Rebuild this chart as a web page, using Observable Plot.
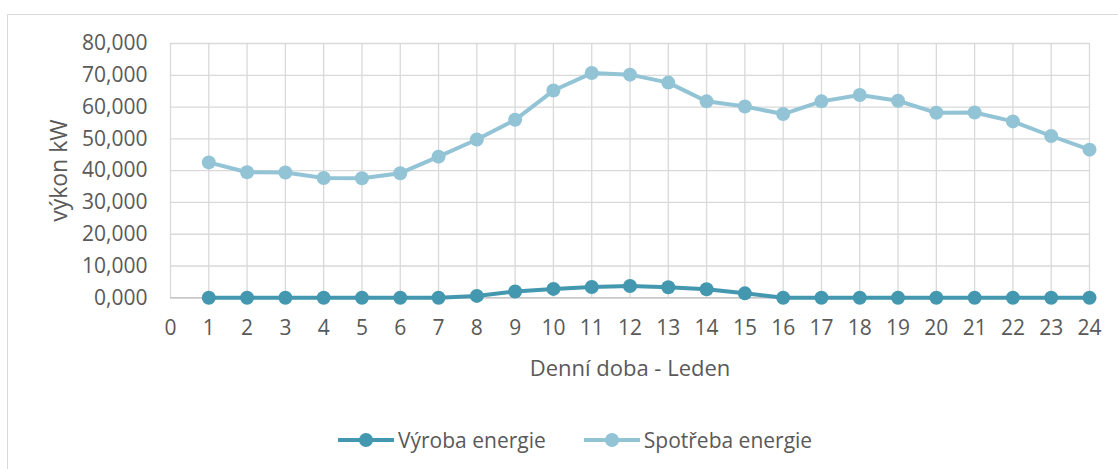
<!DOCTYPE html>
<html>
<head>
<meta charset="utf-8">
<script src="https://cdn.jsdelivr.net/npm/d3@7"></script>
<script src="https://cdn.jsdelivr.net/npm/@observablehq/plot@0.6"></script>
<style>
  html, body { margin: 0; padding: 0; background: #fff; overflow: hidden; }
  #wrap { position: relative; width: 1118px; height: 469px; overflow: hidden; font-family: "Open Sans", sans-serif; color: #595959; }
  #frame { position: absolute; left: 7px; top: 14px; width: 1200px; height: 600px; border: 1.3px solid #d9d9d9; box-sizing: border-box; }
  #chart { position: absolute; left: 0; top: 0; }
  #legend { position: absolute; left: 338px; top: 426px; display: flex; align-items: center; gap: 38px; font-size: 21px; }
  .item { display: flex; align-items: center; gap: 4px; }
</style>
</head>
<body>
<div id="wrap">
  <div id="frame"></div>
  <div id="chart"></div>
  <div id="legend"></div>
</div>
<script>
const hours = [1,2,3,4,5,6,7,8,9,10,11,12,13,14,15,16,17,18,19,20,21,22,23,24];
const vyroba = [0,0,0,0,0,0,0,0.6,2.0,2.8,3.4,3.7,3.3,2.7,1.4,0,0,0,0,0,0,0,0,0];
const spotreba = [42.6,39.5,39.4,37.7,37.6,39.2,44.4,49.8,56.0,65.2,70.7,70.2,67.7,61.8,60.2,57.8,61.8,63.8,62.0,58.2,58.3,55.5,50.9,46.6];
const seriesNames = ["Výroba energie", "Spotřeba energie"];
const seriesColors = ["#4398b0", "#93c4d6"];
const xTicks = d3.range(0, 25);
const yTicks = [0,10,20,30,40,50,60,70,80];
const xTitle = "Denní doba - Leden";
const yTitle = "výkon kW";

const rows = [];
hours.forEach((h, i) => {
  rows.push({hour: h, value: vyroba[i], series: seriesNames[0]});
  rows.push({hour: h, value: spotreba[i], series: seriesNames[1]});
});

const fmt = d => d.toFixed(3).replace(".", ",");
const gridColor = "#d9d9d9";

const chart = Plot.plot({
  width: 1118,
  height: 400,
  marginLeft: 170,
  marginRight: 29,
  marginTop: 43,
  marginBottom: 102.7,
  style: {fontFamily: "Open Sans, sans-serif", fontSize: "21px", color: "#595959", background: "transparent", overflow: "visible"},
  x: {domain: [0, 24], ticks: xTicks},
  y: {domain: [0, 80], ticks: yTicks},
  color: {domain: seriesNames, range: seriesColors},
  marks: [
    Plot.gridX(xTicks, {stroke: gridColor, strokeOpacity: 1, strokeWidth: 1.3}),
    Plot.gridY(yTicks, {stroke: gridColor, strokeOpacity: 1, strokeWidth: 1.3}),
    Plot.ruleY([0], {stroke: "#c6c6c6", strokeWidth: 1.5}),
    Plot.axisX(xTicks, {tickSize: 0, tickPadding: 22, label: null, fill: "#595959", fontSize: 21}),
    Plot.axisY(yTicks, {tickSize: 0, tickPadding: 23, label: null, tickFormat: fmt, fill: "#595959", fontSize: 21}),
    Plot.text([yTitle], {frameAnchor: "left", dx: -111, rotate: -90, textAnchor: "middle", lineAnchor: "middle", fontSize: 23, fill: "#595959"}),
    Plot.text([xTitle], {frameAnchor: "bottom", dy: 71, textAnchor: "middle", lineAnchor: "middle", fontSize: 22, fill: "#595959"}),
    Plot.line(rows, {x: "hour", y: "value", z: "series", stroke: "series", strokeWidth: 4}),
    Plot.dot(rows, {x: "hour", y: "value", fill: "series", r: 7})
  ]
});
document.getElementById("chart").appendChild(chart);

const legend = document.getElementById("legend");
seriesNames.forEach((name, i) => {
  const item = document.createElement("div");
  item.className = "item";
  item.innerHTML = `<svg width="56" height="20"><line x1="0" x2="56" y1="10" y2="10" stroke="${seriesColors[i]}" stroke-width="4"/><circle cx="28" cy="10" r="7" fill="${seriesColors[i]}"/></svg><span>${name}</span>`;
  legend.appendChild(item);
});
</script>
</body>
</html>
